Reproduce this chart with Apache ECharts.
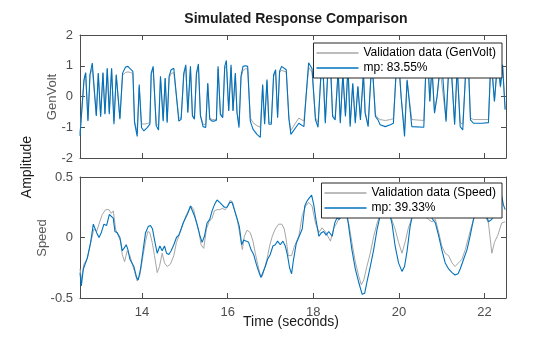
<!DOCTYPE html>
<html><head><meta charset="utf-8">
<script src="https://cdn.jsdelivr.net/npm/echarts@6/dist/echarts.min.js"></script>
<style>html,body{margin:0;padding:0;background:#fff}#c{width:560px;height:337px}</style>
</head><body><div id="c"></div>
<script>
// ---- tick labels ----
var timeTicks = [14, 16, 18, 20, 22];
var xRange = [12.55, 22.5];

// ---- GenVolt (top panel) ----
var tTop = [12.55,12.643,12.682,12.736,12.783,12.837,12.876,12.931,12.977,13.032,13.086,13.133,13.187,13.234,13.288,13.343,13.397,13.436,13.482,13.545,13.614,13.669,13.731,13.785,13.824,13.886,13.933,13.987,14.042,14.12,14.182,14.213,14.259,14.29,14.329,14.384,14.43,14.493,14.539,14.586,14.632,14.679,14.741,14.858,14.912,14.974,15.021,15.068,15.13,15.176,15.223,15.27,15.316,15.363,15.425,15.487,15.534,15.58,15.635,15.689,15.736,15.775,15.829,15.883,15.93,15.969,16.023,16.078,16.124,16.178,16.217,16.264,16.311,16.357,16.412,16.466,16.528,16.59,16.684,16.761,16.816,16.862,16.917,16.963,17.018,17.072,17.119,17.165,17.212,17.259,17.305,17.367,17.43,17.476,
17.66,17.78,17.83,17.89,17.97,18.05,18.11,18.17,18.22,18.28,18.34,18.40,18.45,18.51,18.58,18.63,18.69,18.75,18.81,18.86,18.92,18.98,19.04,19.10,19.17,19.21,19.28,19.34,19.38,19.45,19.51,19.56,19.68,19.80,19.87,19.94,19.99,20.05,20.13,20.19,20.30,20.58,20.63,20.68,20.72,20.77,20.83,20.89,20.96,21.00,21.10,21.16,21.22,21.30,21.36,21.43,21.49,21.56,21.63,21.67,21.74,21.94,22.09,22.14,22.18,22.23,22.28,22.32,22.37,22.42,22.48];
var genVoltMeas = [-1.2,0.5,0.75,-0.75,0.7,0.9,0.95,-0.6,0.72,-0.62,0.75,-0.55,0.9,-0.5,0.9,-0.8,0.68,0.7,-0.7,0.7,0.78,0.8,0.78,0.75,-0.8,-1.15,0.3,-0.88,-0.9,-0.88,-0.85,0.7,0.9,0.92,-0.88,-0.95,0.6,-0.75,0.58,-0.8,0.6,0.75,0.78,-0.7,-0.7,0.7,0.95,-0.5,0.9,-0.6,-0.7,0.72,0.95,-0.6,-0.9,-0.92,0.4,-0.7,-0.75,-0.75,-0.75,0.9,-0.55,-0.65,0.9,1.0,-0.45,0.95,-0.45,0.7,-0.5,-0.9,0.62,0.85,0.9,0.9,-0.7,-0.85,-0.95,-1.0,0.35,-0.85,0.5,-0.85,-0.85,0.65,0.8,-0.65,0.78,0.85,0.88,0.8,-0.7,-1.1,
-0.7,-0.8,0.0,0.95,0.8,-0.7,-0.85,0.5,0.95,-0.8,0.8,0.95,-0.6,-0.7,0.8,-0.8,0.7,-0.6,0.9,-0.9,0.4,-0.8,0.3,-0.7,0.7,-0.5,-0.9,0.5,0.9,-0.6,-0.7,-0.75,-0.78,-0.75,-0.72,0.9,1.1,0.0,-1.1,0.5,-0.75,-0.78,0.9,0.95,-0.15,0.9,-0.5,0.0,0.9,0.95,-0.75,0.8,0.9,-0.85,0.9,-0.85,-0.9,0.8,0.7,-0.7,-0.75,-0.75,-0.75,0.9,0.7,-0.15,0.7,0.95,0.3,0.95,-0.4];
var genVoltModel = [-1.28,0.55,0.78,-0.8,0.71,1.09,1.14,-0.63,0.76,-0.66,0.78,-0.58,0.92,-0.58,0.92,-0.9,0.71,0.76,-0.74,0.76,0.96,0.98,0.89,0.82,-0.85,-1.3,0.39,-1.01,-1.12,-1.01,-0.9,0.76,0.98,1.0,-0.94,-1.09,0.66,-0.8,0.6,-0.85,0.66,0.87,0.92,-0.8,-0.74,0.76,1.03,-0.53,0.98,-0.63,-0.74,0.76,1.06,-0.63,-0.98,-1.01,0.44,-0.74,-0.8,-0.8,-0.77,0.98,-0.58,-0.69,0.98,1.17,-0.47,1.03,-0.47,0.76,-0.53,-1.01,0.66,0.98,1.0,0.98,-0.8,-1.06,-1.23,-1.33,0.39,-0.9,0.55,-0.9,-0.9,0.71,0.87,-0.69,0.82,0.98,1.0,0.87,-0.74,-1.23,
-0.87,-0.98,0.0,1.1,0.9,-0.76,-1.0,0.54,1.09,-0.87,0.87,1.09,-0.65,-0.76,0.87,-0.87,0.76,-0.65,0.98,-0.98,0.43,-0.87,0.33,-0.76,0.76,-0.54,-0.98,0.54,0.98,-0.65,-0.76,-0.92,-0.98,-0.92,-0.87,0.98,1.3,0.0,-1.3,0.54,-0.98,-1.0,0.98,1.09,-0.16,0.98,-0.54,0.0,0.98,1.09,-0.82,0.87,0.98,-0.92,0.98,-0.98,-1.09,0.87,0.76,-0.76,-0.87,-0.87,-0.85,0.98,0.76,-0.16,0.76,1.09,0.33,1.03,-0.43];

// ---- Speed (bottom panel) ----
var tSpeedMeas = [12.55,12.581,12.643,12.721,12.814,12.876,12.939,12.993,13.071,13.148,13.226,13.28,13.327,13.381,13.436,13.498,13.537,13.591,13.653,13.716,13.77,13.824,13.886,13.949,14.026,14.081,14.135,14.182,14.236,14.29,14.353,14.407,14.469,14.524,14.586,14.663,14.741,14.803,14.858,14.912,14.974,15.036,15.099,15.145,15.207,15.27,15.332,15.378,15.44,15.503,15.565,15.635,15.689,15.751,15.813,15.868,15.946,16.0,16.062,16.116,16.178,16.233,16.295,16.342,16.388,16.451,16.528,16.59,16.645,16.699,16.761,16.808,16.862,16.917,16.979,17.041,17.111,17.188,17.266,17.321,17.367,17.414,17.492,
17.55,17.66,17.74,17.82,17.89,17.97,18.05,18.13,18.20,18.28,18.40,18.48,18.55,18.63,18.75,18.83,18.90,18.98,19.06,19.12,19.18,19.25,19.33,19.41,19.49,19.56,19.68,19.80,19.91,19.99,20.07,20.15,20.22,20.30,20.46,20.69,20.77,20.85,20.93,21.00,21.08,21.16,21.24,21.31,21.39,21.47,21.55,21.63,21.70,21.78,21.94,22.09,22.17,22.23,22.31,22.40,22.48];
var speedMeas = [-0.26,-0.35,-0.22,-0.17,-0.02,0.07,0.05,0.11,0.19,0.23,0.23,0.2,0.22,0.07,0.02,-0.03,-0.14,-0.2,-0.11,-0.15,-0.22,-0.28,-0.36,-0.31,-0.14,-0.03,0.05,0.04,-0.04,-0.15,-0.29,-0.24,-0.13,-0.21,-0.24,-0.22,-0.15,-0.04,0.01,0.07,0.13,0.19,0.23,0.26,0.23,0.12,0.04,-0.06,-0.09,0.07,0.13,0.16,0.22,0.23,0.23,0.24,0.23,0.26,0.31,0.29,0.2,0.13,0.0,-0.1,0.01,0.06,0.04,-0.03,-0.13,-0.22,-0.31,-0.32,-0.25,-0.18,-0.07,0.01,0.07,0.11,0.11,0.07,-0.02,-0.15,-0.15,
-0.08,0.01,0.18,0.26,0.29,0.26,0.12,0.04,0.08,0.05,-0.03,0.08,0.12,0.18,0.2,0.11,-0.04,-0.2,-0.32,-0.39,-0.35,-0.24,-0.13,0.01,0.12,0.19,0.23,0.18,0.07,-0.04,-0.13,-0.03,0.08,0.16,0.22,0.15,0.13,0.15,0.04,-0.07,-0.13,-0.15,-0.21,-0.24,-0.21,-0.18,-0.1,0.01,0.1,0.19,0.23,0.12,-0.13,-0.04,0.02,0.12,0.13];
var tSpeedModel = [12.55,12.581,12.628,12.721,12.799,12.861,12.892,12.939,12.993,13.047,13.109,13.172,13.234,13.28,13.327,13.366,13.42,13.482,13.537,13.576,13.63,13.669,13.716,13.762,13.809,13.871,13.91,13.964,14.026,14.081,14.143,14.197,14.244,14.29,14.353,14.415,14.469,14.524,14.57,14.625,14.679,14.741,14.803,14.858,14.912,14.959,15.013,15.068,15.13,15.176,15.223,15.285,15.347,15.402,15.456,15.518,15.58,15.635,15.689,15.751,15.813,15.868,15.922,15.984,16.047,16.101,16.155,16.217,16.272,16.326,16.373,16.435,16.489,16.544,16.606,16.668,16.722,16.777,16.823,16.878,16.932,16.994,17.056,17.111,17.165,17.228,17.29,17.344,17.398,17.445,17.492,
17.53,17.60,17.74,17.80,17.85,17.91,17.96,18.01,18.06,18.13,18.19,18.24,18.30,18.36,18.44,18.50,18.55,18.61,18.67,18.75,18.83,18.90,18.98,19.06,19.14,19.20,19.25,19.33,19.41,19.49,19.56,19.64,19.72,19.84,19.91,19.99,20.07,20.13,20.19,20.26,20.34,20.54,20.69,20.85,20.93,21.00,21.08,21.16,21.24,21.31,21.38,21.43,21.51,21.59,21.66,21.74,21.82,21.94,22.01,22.09,22.17,22.25,22.32,22.39,22.44,22.48];
var speedModel = [-0.29,-0.4,-0.26,-0.17,-0.04,0.11,0.12,0.04,0.0,0.04,0.11,0.1,0.19,0.2,0.16,0.05,0.04,0.0,-0.11,-0.09,-0.06,-0.1,-0.18,-0.18,-0.24,-0.33,-0.35,-0.26,-0.1,0.04,0.09,0.1,0.07,-0.02,-0.13,-0.07,-0.11,-0.07,-0.13,-0.14,-0.11,-0.06,0.0,0.02,0.07,0.12,0.16,0.2,0.26,0.25,0.18,0.11,0.02,-0.04,0.01,0.12,0.15,0.22,0.27,0.31,0.29,0.27,0.25,0.25,0.29,0.29,0.23,0.16,0.09,-0.06,-0.02,-0.03,-0.04,-0.1,-0.14,-0.22,-0.28,-0.33,-0.33,-0.24,-0.18,-0.14,-0.07,-0.06,-0.03,-0.06,-0.03,-0.07,-0.15,-0.25,-0.3,
-0.2,-0.05,0.07,0.26,0.3,0.33,0.35,0.27,0.15,0.01,0.04,0.05,0.02,0.05,0.01,0.12,0.16,0.15,0.19,0.29,0.08,-0.1,-0.26,-0.37,-0.47,-0.46,-0.37,-0.24,-0.1,0.07,0.18,0.26,0.29,0.11,-0.07,-0.21,-0.28,-0.24,-0.11,0.09,0.23,0.29,0.2,0.12,0.01,-0.1,-0.21,-0.26,-0.29,-0.31,-0.3,-0.26,-0.18,-0.1,0.01,0.15,0.23,0.26,0.22,0.13,0.15,0.23,0.3,0.36,0.27,0.23];

var measColor = '#a6a6a6', modelColor = '#0072bd', axisColor = '#4d4d4d';
var FONT = '"Liberation Sans", Arial, Helvetica, sans-serif';
function pairs(t, v) { return t.map(function (x, i) { return [x, v[i]]; }); }

var grids = [
  { left: 80, top: 35, width: 426, height: 123 },
  { left: 80, top: 177, width: 426, height: 121 }
];
function xAx(g, pos, labels) {
  return {
    type: 'value', gridIndex: g, position: pos, min: xRange[0], max: xRange[1],
    axisLine: { show: true, onZero: false, lineStyle: { color: axisColor, width: 1 } },
    axisTick: { show: true, inside: true, length: 5, customValues: timeTicks, lineStyle: { color: axisColor } },
    axisLabel: { show: labels, customValues: timeTicks, color: axisColor, fontSize: 13, fontFamily: FONT, margin: 8 },
    splitLine: { show: false }
  };
}
function yAx(g, pos, min, max, iv, labels) {
  return {
    type: 'value', gridIndex: g, position: pos, min: min, max: max, interval: iv,
    axisLine: { show: true, onZero: false, lineStyle: { color: axisColor, width: 1 } },
    axisTick: { show: true, inside: true, length: 5, lineStyle: { color: axisColor } },
    axisLabel: { show: labels, color: axisColor, fontSize: 13, fontFamily: FONT, margin: 7 },
    splitLine: { show: false }
  };
}
function lineSeries(name, data, xi, yi, color, w, z) {
  return { name: name, type: 'line', xAxisIndex: xi, yAxisIndex: yi, data: data,
    symbol: 'none', showSymbol: false, animation: false, z: z,
    lineStyle: { color: color, width: w }, itemStyle: { color: color } };
}
var legendBase = {
  orient: 'vertical', backgroundColor: '#fff', borderColor: '#262626', borderWidth: 1,
  padding: [3, 6, 3, 3], itemGap: 1, itemWidth: 42, itemHeight: 1.3, icon: 'rect',
  itemStyle: { borderWidth: 0 },
  textStyle: { fontSize: 12, lineHeight: 14, color: '#000', fontFamily: FONT }
};
var chart = echarts.init(document.getElementById('c'), null, { renderer: 'canvas' });
chart.setOption({
  animation: false,
  backgroundColor: '#fff',
  title: { text: 'Simulated Response Comparison', left: 291, top: 7, textAlign: 'center',
    textStyle: { fontSize: 14, fontWeight: 'bold', color: '#1a1a1a', fontFamily: FONT } },
  grid: grids,
  xAxis: [xAx(0, 'bottom', false), xAx(0, 'top', false), xAx(1, 'bottom', true), xAx(1, 'top', false)],
  yAxis: [yAx(0, 'left', -2, 2, 1, true), yAx(0, 'right', -2, 2, 1, false),
          yAx(1, 'left', -0.5, 0.5, 0.5, true), yAx(1, 'right', -0.5, 0.5, 0.5, false)],
  legend: [
    Object.assign({}, legendBase, { right: 58, top: 43, data: ['Validation data (GenVolt)', 'mp: 83.55%'] }),
    Object.assign({}, legendBase, { right: 58, top: 183, data: ['Validation data (Speed)', 'mp: 39.33%'] })
  ],
  graphic: [
    { type: 'text', rotation: Math.PI / 2, position: [27, 167], style: { text: 'Amplitude', fill: '#1a1a1a', font: '14px ' + FONT, textAlign: 'center', textVerticalAlign: 'middle' } },
    { type: 'text', rotation: Math.PI / 2, position: [52, 97], style: { text: 'GenVolt', fill: '#595959', font: '13px ' + FONT, textAlign: 'center', textVerticalAlign: 'middle' } },
    { type: 'text', rotation: Math.PI / 2, position: [42, 238], style: { text: 'Speed', fill: '#595959', font: '13px ' + FONT, textAlign: 'center', textVerticalAlign: 'middle' } },
    { type: 'text', position: [291, 322], style: { text: 'Time (seconds)', fill: '#1a1a1a', font: '14px ' + FONT, textAlign: 'center', textVerticalAlign: 'middle' } }
  ],
  series: [
    lineSeries('Validation data (GenVolt)', pairs(tTop, genVoltMeas), 0, 0, measColor, 1, 2),
    lineSeries('mp: 83.55%', pairs(tTop, genVoltModel), 0, 0, modelColor, 1.1, 3),
    lineSeries('Validation data (Speed)', pairs(tSpeedMeas, speedMeas), 2, 2, measColor, 1, 2),
    lineSeries('mp: 39.33%', pairs(tSpeedModel, speedModel), 2, 2, modelColor, 1.1, 3)
  ]
});
</script></body></html>
